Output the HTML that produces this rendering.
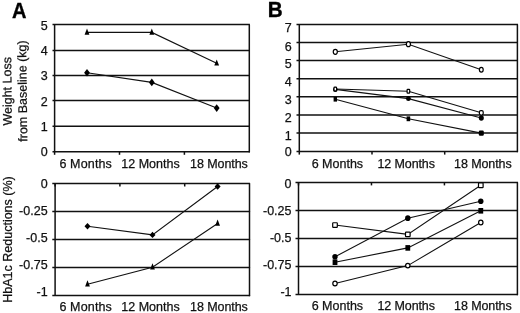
<!DOCTYPE html>
<html><head><meta charset="utf-8"><style>
html,body{margin:0;padding:0;background:#fff;}
svg{display:block;will-change:transform;}
</style></head><body>
<svg width="520" height="313" viewBox="0 0 520 313">
<rect width="520" height="313" fill="#fff"/>
<g stroke="#111" stroke-width="1.5" fill="none">
<line x1="52.50" y1="24.50" x2="249.90" y2="24.50"/>
<line x1="52.50" y1="50.40" x2="249.90" y2="50.40"/>
<line x1="52.50" y1="75.60" x2="249.90" y2="75.60"/>
<line x1="52.50" y1="100.45" x2="249.90" y2="100.45"/>
<line x1="52.50" y1="126.20" x2="249.90" y2="126.20"/>
<line x1="52.50" y1="151.80" x2="249.90" y2="151.80"/>
<line x1="54.60" y1="24.50" x2="54.60" y2="151.80"/>
<line x1="249.30" y1="24.50" x2="249.30" y2="152.40"/>
<line x1="54.60" y1="151.80" x2="54.60" y2="154.80"/>
<line x1="119.50" y1="151.80" x2="119.50" y2="154.80"/>
<line x1="184.40" y1="151.80" x2="184.40" y2="154.80"/>
<line x1="52.30" y1="183.50" x2="250.10" y2="183.50"/>
<line x1="52.30" y1="211.50" x2="250.10" y2="211.50"/>
<line x1="52.30" y1="239.60" x2="250.10" y2="239.60"/>
<line x1="52.30" y1="267.50" x2="250.10" y2="267.50"/>
<line x1="52.30" y1="295.60" x2="250.10" y2="295.60"/>
<line x1="55.10" y1="183.50" x2="55.10" y2="295.60"/>
<line x1="249.50" y1="183.50" x2="249.50" y2="296.20"/>
<line x1="55.10" y1="183.50" x2="55.10" y2="186.50"/>
<line x1="119.90" y1="183.50" x2="119.90" y2="186.50"/>
<line x1="184.70" y1="183.50" x2="184.70" y2="186.50"/>
<line x1="296.50" y1="24.50" x2="518.00" y2="24.50"/>
<line x1="296.50" y1="42.50" x2="518.00" y2="42.50"/>
<line x1="296.50" y1="60.50" x2="518.00" y2="60.50"/>
<line x1="296.50" y1="78.80" x2="518.00" y2="78.80"/>
<line x1="296.50" y1="96.80" x2="518.00" y2="96.80"/>
<line x1="296.50" y1="115.00" x2="518.00" y2="115.00"/>
<line x1="296.50" y1="133.00" x2="518.00" y2="133.00"/>
<line x1="296.50" y1="151.60" x2="518.00" y2="151.60"/>
<line x1="299.30" y1="24.50" x2="299.30" y2="151.60"/>
<line x1="517.40" y1="24.50" x2="517.40" y2="152.20"/>
<line x1="299.30" y1="151.60" x2="299.30" y2="154.60"/>
<line x1="372.00" y1="151.60" x2="372.00" y2="154.60"/>
<line x1="444.70" y1="151.60" x2="444.70" y2="154.60"/>
<line x1="295.50" y1="182.40" x2="518.00" y2="182.40"/>
<line x1="295.50" y1="210.60" x2="518.00" y2="210.60"/>
<line x1="295.50" y1="238.50" x2="518.00" y2="238.50"/>
<line x1="295.50" y1="266.60" x2="518.00" y2="266.60"/>
<line x1="295.50" y1="294.60" x2="518.00" y2="294.60"/>
<line x1="298.50" y1="182.40" x2="298.50" y2="294.60"/>
<line x1="517.40" y1="182.40" x2="517.40" y2="295.20"/>
<line x1="298.50" y1="182.40" x2="298.50" y2="185.40"/>
<line x1="371.47" y1="182.40" x2="371.47" y2="185.40"/>
<line x1="444.43" y1="182.40" x2="444.43" y2="185.40"/>
</g>
<g font-family='"Liberation Sans", sans-serif' font-size="12.5" fill="#111" stroke="#111" stroke-width="0.25" text-anchor="end">
<text x="47.6" y="30.05">5</text>
<text x="47.6" y="55.25">4</text>
<text x="47.6" y="80.45">3</text>
<text x="47.6" y="105.65">2</text>
<text x="47.6" y="130.85">1</text>
<text x="47.6" y="156.05">0</text>
<text x="47.6" y="188.25">0</text>
<text x="47.6" y="215.30">-0.25</text>
<text x="47.6" y="242.35">-0.5</text>
<text x="47.6" y="269.40">-0.75</text>
<text x="47.6" y="296.45">-1</text>
<text x="291.7" y="32.10">7</text>
<text x="291.7" y="50.60">6</text>
<text x="291.7" y="68.20">5</text>
<text x="291.7" y="86.25">4</text>
<text x="291.7" y="103.80">3</text>
<text x="291.7" y="122.00">2</text>
<text x="291.7" y="140.10">1</text>
<text x="291.7" y="156.40">0</text>
<text x="291.5" y="188.10">0</text>
<text x="291.5" y="215.15">-0.25</text>
<text x="291.5" y="242.20">-0.5</text>
<text x="291.5" y="269.25">-0.75</text>
<text x="291.5" y="296.30">-1</text>
</g>
<g font-family='"Liberation Sans", sans-serif' font-size="12.5" fill="#111" stroke="#111" stroke-width="0.25">
<text x="59.4" y="167.6" letter-spacing="0.15">6 Months</text>
<text x="121.3" y="167.6">12 Months</text>
<text x="190.1" y="167.6" letter-spacing="-0.08">18 Months</text>
<text x="59.4" y="310.8" letter-spacing="0.15">6 Months</text>
<text x="121.3" y="310.8">12 Months</text>
<text x="190.1" y="310.8" letter-spacing="-0.08">18 Months</text>
<text x="311.7" y="167.9">6 Months</text>
<text x="377.4" y="167.9" letter-spacing="-0.1">12 Months</text>
<text x="454.1" y="167.9" letter-spacing="-0.1">18 Months</text>
<text x="311.7" y="310.3">6 Months</text>
<text x="377.4" y="310.3" letter-spacing="-0.1">12 Months</text>
<text x="454.1" y="310.3" letter-spacing="-0.1">18 Months</text>
</g>
<g font-family='"Liberation Sans", sans-serif' font-size="12.5" fill="#111" stroke="#111" stroke-width="0.25" text-anchor="middle">
<text transform="translate(11.5,91.3) rotate(-90.6)">Weight Loss</text>
<text transform="translate(26.7,91.0) rotate(-90.6)">from Baseline (kg)</text>
<text transform="translate(11.6,239.5) rotate(-90)">HbA1c Reductions (%)</text>
</g>
<g font-family='"Liberation Sans", sans-serif' font-size="22" font-weight="bold" fill="#000" stroke="#000" stroke-width="0.35">
<text transform="translate(11.9,17.5) scale(0.91,1)">A</text>
<text transform="translate(267.7,17.4) scale(0.94,1)">B</text>
</g>
<polyline points="87.00,32.40 151.80,32.40 216.70,63.30" fill="none" stroke="#111" stroke-width="1.1"/>
<polyline points="87.00,72.70 151.80,82.40 216.70,108.10" fill="none" stroke="#111" stroke-width="1.1"/>
<path d="M87.00 28.50 L89.40 34.70 L84.60 34.70 Z" fill="#000"/>
<path d="M151.80 28.50 L154.20 34.70 L149.40 34.70 Z" fill="#000"/>
<path d="M216.70 59.40 L219.10 65.60 L214.30 65.60 Z" fill="#000"/>
<path d="M87.00 68.90 L89.90 72.70 L87.00 76.50 L84.10 72.70 Z" fill="#000"/>
<path d="M151.80 78.60 L154.70 82.40 L151.80 86.20 L148.90 82.40 Z" fill="#000"/>
<path d="M216.70 104.30 L219.60 108.10 L216.70 111.90 L213.80 108.10 Z" fill="#000"/>
<polyline points="87.50,226.20 152.50,234.90 217.60,186.50" fill="none" stroke="#111" stroke-width="1.1"/>
<polyline points="87.50,284.20 152.50,267.20 217.60,223.50" fill="none" stroke="#111" stroke-width="1.1"/>
<path d="M87.50 223.00 L90.50 226.20 L87.50 229.40 L84.50 226.20 Z" fill="#000"/>
<path d="M152.50 231.70 L155.50 234.90 L152.50 238.10 L149.50 234.90 Z" fill="#000"/>
<path d="M217.60 183.30 L220.60 186.50 L217.60 189.70 L214.60 186.50 Z" fill="#000"/>
<path d="M87.50 280.30 L89.90 286.50 L85.10 286.50 Z" fill="#000"/>
<path d="M152.50 263.30 L154.90 269.50 L150.10 269.50 Z" fill="#000"/>
<path d="M217.60 219.60 L220.00 225.80 L215.20 225.80 Z" fill="#000"/>
<polyline points="335.30,51.80 408.40,44.20 481.30,69.80" fill="none" stroke="#111" stroke-width="1.1"/>
<polyline points="335.30,89.05 408.40,91.30 481.30,112.80" fill="none" stroke="#111" stroke-width="1.1"/>
<polyline points="335.30,89.40 408.40,98.60 481.30,118.00" fill="none" stroke="#111" stroke-width="1.1"/>
<polyline points="335.30,99.30 408.40,118.80 481.30,133.10" fill="none" stroke="#111" stroke-width="1.1"/>
<rect x="333.60" y="97.00" width="3.40" height="4.60" rx="0" fill="#000"/>
<rect x="406.60" y="116.40" width="3.60" height="4.80" rx="0" fill="#000"/>
<rect x="478.80" y="130.50" width="5.00" height="5.20" rx="1.2" fill="#000"/>
<ellipse cx="335.30" cy="89.40" rx="2.30" ry="2.50" fill="#000"/>
<ellipse cx="408.40" cy="98.60" rx="2.40" ry="2.50" fill="#000"/>
<ellipse cx="481.30" cy="118.00" rx="2.50" ry="2.80" fill="#000"/>
<rect x="334.00" y="87.15" width="2.60" height="3.80" rx="0.8" fill="#fff" stroke="#000" stroke-width="1.2"/>
<rect x="407.10" y="89.40" width="2.60" height="3.80" rx="0.6" fill="#fff" stroke="#000" stroke-width="1.2"/>
<rect x="479.40" y="110.60" width="3.80" height="4.40" rx="1.4" fill="#fff" stroke="#000" stroke-width="1.2"/>
<ellipse cx="335.30" cy="51.80" rx="2.05" ry="2.50" fill="#fff" stroke="#000" stroke-width="1.2"/>
<ellipse cx="408.40" cy="44.20" rx="2.05" ry="2.50" fill="#fff" stroke="#000" stroke-width="1.2"/>
<ellipse cx="481.30" cy="69.80" rx="1.90" ry="2.40" fill="#fff" stroke="#000" stroke-width="1.2"/>
<polyline points="335.00,225.05 407.80,234.40 480.80,185.30" fill="none" stroke="#111" stroke-width="1.1"/>
<polyline points="335.00,256.80 407.80,218.15 480.80,201.20" fill="none" stroke="#111" stroke-width="1.1"/>
<polyline points="335.00,262.20 407.80,247.90 480.80,210.80" fill="none" stroke="#111" stroke-width="1.1"/>
<polyline points="335.00,283.50 407.80,265.60 480.80,222.50" fill="none" stroke="#111" stroke-width="1.1"/>
<rect x="332.60" y="259.40" width="4.80" height="5.60" rx="0" fill="#000"/>
<rect x="405.40" y="245.10" width="4.80" height="5.60" rx="0" fill="#000"/>
<rect x="478.40" y="208.00" width="4.80" height="5.60" rx="0" fill="#000"/>
<ellipse cx="335.00" cy="256.80" rx="2.70" ry="2.80" fill="#000"/>
<ellipse cx="407.80" cy="218.15" rx="2.70" ry="2.80" fill="#000"/>
<ellipse cx="480.80" cy="201.20" rx="2.70" ry="2.80" fill="#000"/>
<rect x="332.70" y="222.75" width="4.60" height="4.60" rx="0.6" fill="#fff" stroke="#000" stroke-width="1.2"/>
<rect x="405.50" y="232.10" width="4.60" height="4.60" rx="0.6" fill="#fff" stroke="#000" stroke-width="1.2"/>
<rect x="478.50" y="183.00" width="4.60" height="4.60" rx="0.6" fill="#fff" stroke="#000" stroke-width="1.2"/>
<ellipse cx="335.00" cy="283.50" rx="2.20" ry="2.30" fill="#fff" stroke="#000" stroke-width="1.2"/>
<ellipse cx="407.80" cy="265.60" rx="2.20" ry="2.30" fill="#fff" stroke="#000" stroke-width="1.2"/>
<ellipse cx="480.80" cy="222.50" rx="2.20" ry="2.30" fill="#fff" stroke="#000" stroke-width="1.2"/>
</svg>
</body></html>
